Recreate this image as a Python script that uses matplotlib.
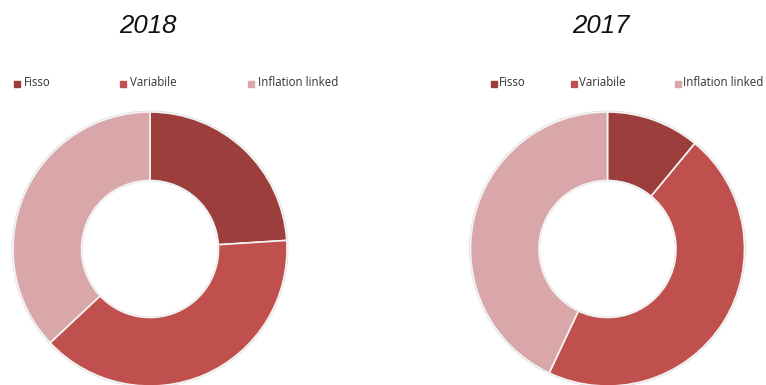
import matplotlib
matplotlib.use("Agg")
import matplotlib.pyplot as plt

# Composizione del debito per tipo di tasso
categories = ["Fisso", "Variabile", "Inflation linked"]
years = ["2018", "2017"]
shares_2018 = [24, 39, 37]
shares_2017 = [11, 46, 43]
colors = ["#9C3E3B", "#C0504D", "#D9A7A9"]

W, H = 766, 385
fig = plt.figure(figsize=(W / 100, H / 100), dpi=100)
ax = fig.add_axes([0, 0, 1, 1])

# (valori, centro anello, centro titolo, posizioni legenda, distanza testo)
panels = [
    (shares_2018, 150, 147.5, [14, 120.5, 248], 9.5),
    (shares_2017, 607.5, 601, [491, 571, 675.5], 7.8),
]

for (values, cx, tx, leg_x, gap), year in zip(panels, years):
    cy = H - 249
    ax.pie(values, colors=colors, startangle=90, counterclock=False,
           center=(cx, cy), radius=137,
           wedgeprops=dict(width=68.5, edgecolor="#f4f4f4", linewidth=1.2))
    # leggera ombra sui bordi dell'anello
    for r in (137.8, 68.0):
        ax.add_patch(plt.Circle((cx, cy), r, fill=False, edgecolor="#d6d9d9",
                                linewidth=0.8, zorder=0.5))
    ax.text(tx, H - 26, year, ha="center", va="center", fontsize=18.5,
            style="italic", family="Liberation Sans", color="#111111")
    for x, lab, col in zip(leg_x, categories, colors):
        ax.plot([x + 2.5], [H - 83.5], marker="s", markersize=4.2,
                color=col, linestyle="none")
        ax.text(x + gap, H - 83, lab, ha="left", va="center", fontsize=8.3,
                family="Open Sans", color="#333333")

ax.set_xlim(0, W)
ax.set_ylim(0, H)
ax.set_aspect("auto")
ax.axis("off")
fig.savefig("out.png", dpi=100, facecolor="white")
